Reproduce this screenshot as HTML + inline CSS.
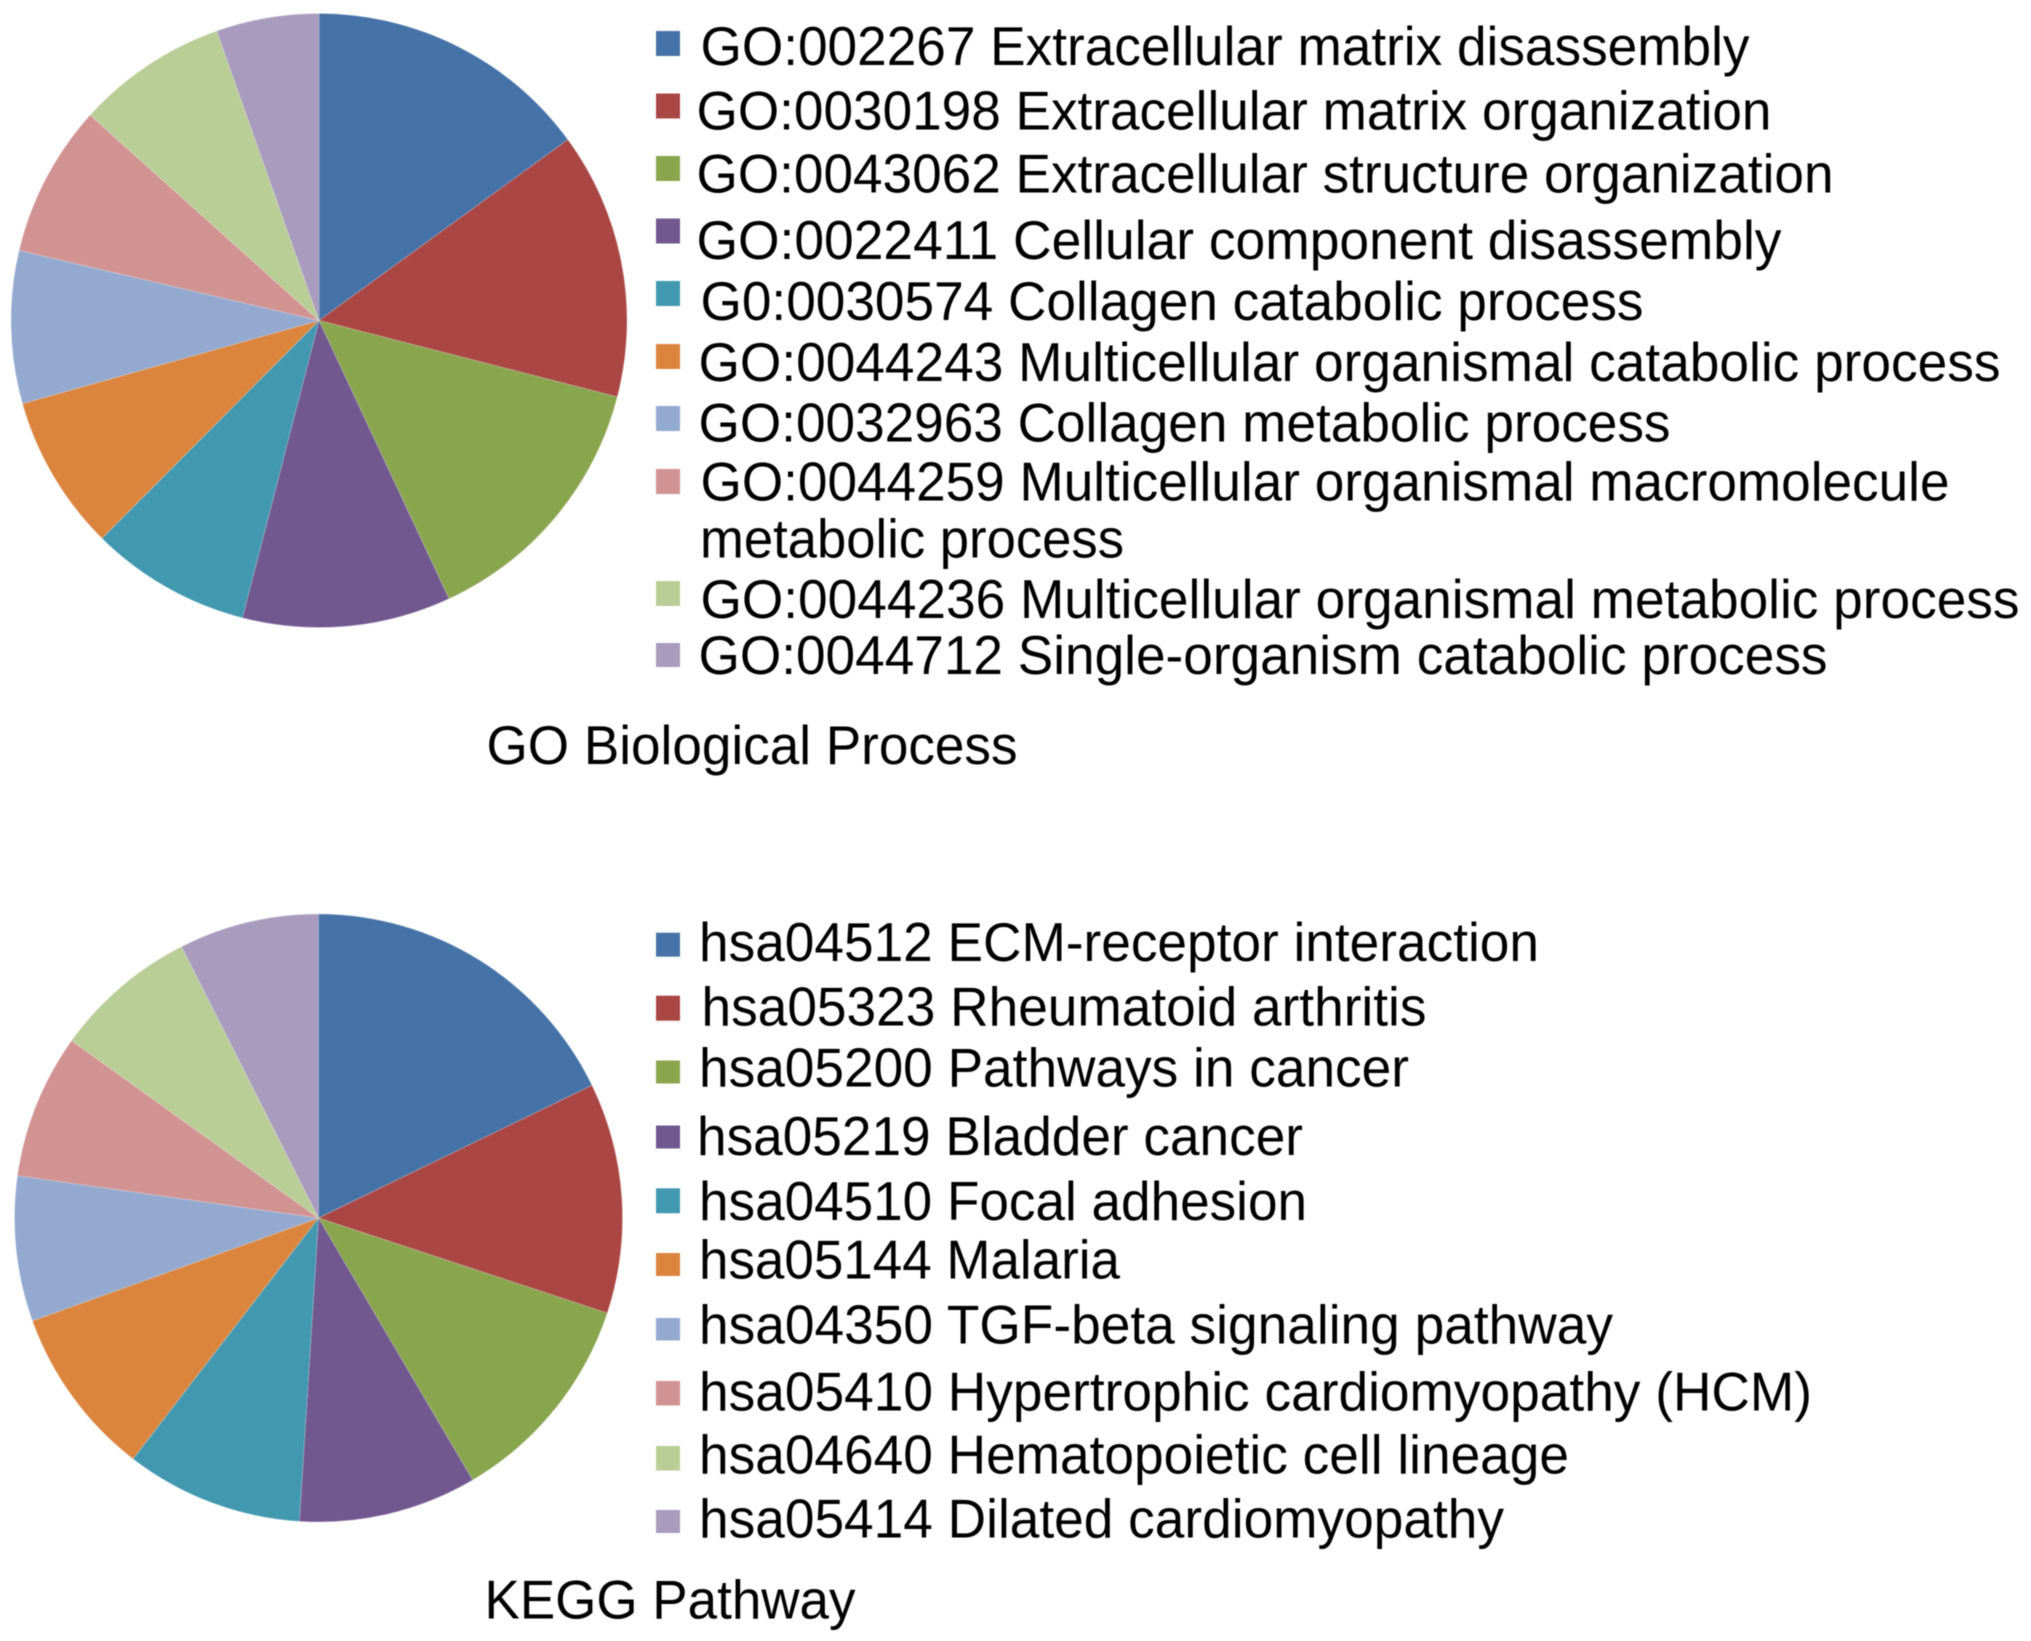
<!DOCTYPE html>
<html lang="en">
<head>
<meta charset="utf-8">
<title>GO Biological Process and KEGG Pathway pie charts</title>
<style>
html,body{margin:0;padding:0;background:#fff;width:2031px;height:1641px;overflow:hidden}
svg{display:block;filter:blur(0.6px)}
text{font-family:"Liberation Sans",Arial,sans-serif;font-size:55px;fill:#000}
</style>
</head>
<body>
<svg id="figure" xmlns="http://www.w3.org/2000/svg" width="2031" height="1641" viewBox="0 0 2031 1641">
  <rect x="0" y="0" width="2031" height="1641" fill="#ffffff"/>

  <g id="go-pie"></g>
  <g id="kegg-pie"></g>

  <g>
    <rect x="656" y="31" width="24" height="25" fill="#4572a7"/>
    <rect x="656" y="93.5" width="24" height="25" fill="#aa4643"/>
    <rect x="656" y="156" width="24" height="25" fill="#89a54e"/>
    <rect x="656" y="218.5" width="24" height="25" fill="#71588f"/>
    <rect x="656" y="281" width="24" height="25" fill="#4198af"/>
    <rect x="656" y="344" width="24" height="25" fill="#db843d"/>
    <rect x="656" y="406" width="24" height="25" fill="#93a9cf"/>
    <rect x="656" y="469" width="24" height="25" fill="#d19392"/>
    <rect x="656" y="581" width="24" height="25" fill="#b9cd96"/>
    <rect x="656" y="643" width="24" height="24" fill="#a99bbd"/>

    <text x="700.5" y="65" textLength="1049" lengthAdjust="spacingAndGlyphs">GO:002267 Extracellular matrix disassembly</text>
    <text x="696.5" y="129.3" textLength="1075" lengthAdjust="spacingAndGlyphs">GO:0030198 Extracellular matrix organization</text>
    <text x="696.5" y="192.7" textLength="1137" lengthAdjust="spacingAndGlyphs">GO:0043062 Extracellular structure organization</text>
    <text x="696.5" y="259" textLength="1085" lengthAdjust="spacingAndGlyphs">GO:0022411 Cellular component disassembly</text>
    <text x="700.5" y="320" textLength="943" lengthAdjust="spacingAndGlyphs">G0:0030574 Collagen catabolic process</text>
    <text x="698.5" y="381" textLength="1302" lengthAdjust="spacingAndGlyphs">GO:0044243 Multicellular organismal catabolic process</text>
    <text x="698.5" y="441.7" textLength="972" lengthAdjust="spacingAndGlyphs">GO:0032963 Collagen metabolic process</text>
    <text x="700.5" y="500.7" textLength="1249" lengthAdjust="spacingAndGlyphs">GO:0044259 Multicellular organismal macromolecule</text>
    <text x="700" y="557.7" textLength="424" lengthAdjust="spacingAndGlyphs">metabolic process</text>
    <text x="700.5" y="618" textLength="1319" lengthAdjust="spacingAndGlyphs">GO:0044236 Multicellular organismal metabolic process</text>
    <text x="698.5" y="674" textLength="1129" lengthAdjust="spacingAndGlyphs">GO:0044712 Single-organism catabolic process</text>
  </g>
  <text x="486.5" y="764" textLength="531" lengthAdjust="spacingAndGlyphs">GO Biological Process</text>

  <g>
    <rect x="656" y="932.7" width="24" height="24" fill="#4572a7"/>
    <rect x="656" y="995.7" width="24" height="25" fill="#aa4643"/>
    <rect x="656" y="1060.5" width="24" height="23" fill="#89a54e"/>
    <rect x="656" y="1125.5" width="24" height="23" fill="#71588f"/>
    <rect x="656" y="1188.3" width="24" height="25" fill="#4198af"/>
    <rect x="656" y="1253" width="24" height="23" fill="#db843d"/>
    <rect x="656" y="1318" width="24" height="22.5" fill="#93a9cf"/>
    <rect x="656" y="1381" width="24" height="24.5" fill="#d19392"/>
    <rect x="656" y="1446" width="24" height="24.5" fill="#b9cd96"/>
    <rect x="656" y="1510" width="24" height="23" fill="#a99bbd"/>

    <text x="699" y="961" textLength="840" lengthAdjust="spacingAndGlyphs">hsa04512 ECM-receptor interaction</text>
    <text x="701.5" y="1025.3" textLength="725" lengthAdjust="spacingAndGlyphs">hsa05323 Rheumatoid arthritis</text>
    <text x="699" y="1086.7" textLength="710" lengthAdjust="spacingAndGlyphs">hsa05200 Pathways in cancer</text>
    <text x="697" y="1155" textLength="606" lengthAdjust="spacingAndGlyphs">hsa05219 Bladder cancer</text>
    <text x="699" y="1220" textLength="608" lengthAdjust="spacingAndGlyphs">hsa04510 Focal adhesion</text>
    <text x="699" y="1278.3" textLength="421" lengthAdjust="spacingAndGlyphs">hsa05144 Malaria</text>
    <text x="699" y="1343.7" textLength="914" lengthAdjust="spacingAndGlyphs">hsa04350 TGF-beta signaling pathway</text>
    <text x="699" y="1410.3" textLength="1113" lengthAdjust="spacingAndGlyphs">hsa05410 Hypertrophic cardiomyopathy (HCM)</text>
    <text x="699" y="1473.3" textLength="870" lengthAdjust="spacingAndGlyphs">hsa04640 Hematopoietic cell lineage</text>
    <text x="699" y="1537.7" textLength="805" lengthAdjust="spacingAndGlyphs">hsa05414 Dilated cardiomyopathy</text>
  </g>
  <text x="484.5" y="1618.3" textLength="371" lengthAdjust="spacingAndGlyphs">KEGG Pathway</text>
</svg>

<script>
// Estimated share of each slice (percent).
const goCategories = ["GO:002267","GO:0030198","GO:0043062","GO:0022411","G0:0030574","GO:0044243","GO:0032963","GO:0044259","GO:0044236","GO:0044712"];
const goValues = [14.97, 14.03, 14.06, 10.94, 8.44, 8.19, 8.03, 8.0, 7.94, 5.39];
const keggCategories = ["hsa04512","hsa05323","hsa05200","hsa05219","hsa04510","hsa05144","hsa04350","hsa05410","hsa04640","hsa05414"];
const keggValues = [17.81, 12.25, 11.47, 9.47, 9.44, 9.06, 7.72, 7.69, 7.64, 7.44];
const sliceColors = ["#4572a7","#aa4643","#89a54e","#71588f","#4198af","#db843d","#93a9cf","#d19392","#b9cd96","#a99bbd"];

const SVG_NS = "http://www.w3.org/2000/svg";

// Angle axis: maps a cumulative value to radians clockwise from 12 o'clock.
function angleScale(total) {
  return function (v) { return (v / total) * 2 * Math.PI; };
}

function drawPie(groupId, prefix, categories, values, cx, cy, rx, ry) {
  const group = document.getElementById(groupId);
  const total = values.reduce(function (a, b) { return a + b; }, 0);
  const angle = angleScale(total);
  let cumulative = 0;
  values.forEach(function (value, i) {
    const a0 = angle(cumulative);
    const a1 = angle(cumulative + value);
    cumulative += value;
    const x0 = cx + rx * Math.sin(a0), y0 = cy - ry * Math.cos(a0);
    const x1 = cx + rx * Math.sin(a1), y1 = cy - ry * Math.cos(a1);
    const large = a1 - a0 > Math.PI ? 1 : 0;
    const path = document.createElementNS(SVG_NS, "path");
    path.setAttribute("d", "M" + cx + " " + cy + " L" + x0 + " " + y0 + " A" + rx + " " + ry + " 0 " + large + " 1 " + x1 + " " + y1 + " Z");
    path.setAttribute("fill", sliceColors[i]);
    path.setAttribute("stroke", "#ffffff");
    path.setAttribute("stroke-opacity", "0.2");
    path.setAttribute("stroke-width", "1");
    path.setAttribute("data-category", categories[i]);
    
    
    group.appendChild(path);
  });
}

drawPie("go-pie", "go", goCategories, goValues, 319, 320.5, 308, 307);
drawPie("kegg-pie", "kegg", keggCategories, keggValues, 318.5, 1218, 304, 304);
</script>
</body>
</html>
